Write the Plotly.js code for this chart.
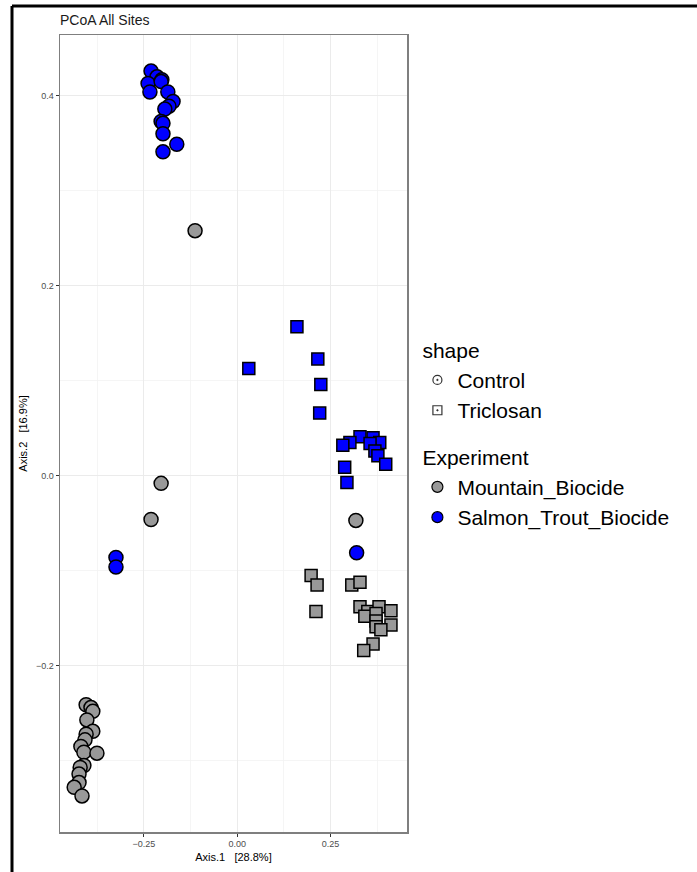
<!DOCTYPE html>
<html>
<head>
<meta charset="utf-8">
<script src="https://cdn.plot.ly/plotly-3.0.1.min.js"></script>
<style>
html,body{margin:0;padding:0;background:#fff;}
#chart{width:697px;height:872px;}
</style>
</head>
<body>
<div id="chart"></div>
<script>
// Mountain_Biocide, Control (grey circles)
var mountainControlX = [-0.405,-0.392,-0.387,-0.403,-0.387,-0.405,-0.408,-0.419,-0.411,-0.376,-0.411,-0.421,-0.424,-0.424,-0.437,-0.416,-0.113,-0.204,-0.231,0.318];
var mountainControlY = [-0.241,-0.244,-0.248,-0.257,-0.269,-0.272,-0.278,-0.285,-0.291,-0.292,-0.305,-0.307,-0.314,-0.323,-0.328,-0.337,0.258,-0.008,-0.046,-0.047];
// Mountain_Biocide, Triclosan (grey squares)
var mountainTriclosanX = [0.198,0.214,0.307,0.329,0.211,0.329,0.350,0.380,0.412,0.342,0.372,0.372,0.372,0.412,0.385,0.364,0.339];
var mountainTriclosanY = [-0.105,-0.115,-0.115,-0.112,-0.143,-0.138,-0.143,-0.138,-0.142,-0.148,-0.145,-0.153,-0.159,-0.157,-0.162,-0.177,-0.184];
// Salmon_Trout_Biocide, Control (blue circles)
var salmonControlX = [-0.231,-0.215,-0.202,-0.239,-0.234,-0.204,-0.186,-0.172,-0.183,-0.194,-0.204,-0.199,-0.199,-0.162,-0.199,-0.325,-0.325,0.320];
var salmonControlY = [0.426,0.420,0.417,0.413,0.404,0.415,0.404,0.394,0.389,0.386,0.373,0.371,0.360,0.349,0.341,-0.086,-0.096,-0.081];
// Salmon_Trout_Biocide, Triclosan (blue squares)
var salmonTriclosanX = [0.160,0.216,0.224,0.031,0.221,0.329,0.364,0.382,0.356,0.369,0.377,0.398,0.302,0.283,0.288,0.294];
var salmonTriclosanY = [0.157,0.123,0.096,0.113,0.066,0.041,0.040,0.035,0.034,0.026,0.021,0.012,0.035,0.032,0.009,-0.007];

var shapeLabels = ["Control","Triclosan"];
var experimentLabels = ["Mountain_Biocide","Salmon_Trout_Biocide"];
var experimentColors = ["#999999","#0000FF"];

var lineStyle = {color:"#000000", width:1.5};
function pts(x, y, color, symbol, size){
  return {type:"scatter", mode:"markers", x:x, y:y, showlegend:false, hoverinfo:"x+y",
    marker:{color:color, symbol:symbol, size:size, line:lineStyle}};
}
var traces = [
  pts(mountainControlX, mountainControlY, experimentColors[0], "circle", 14),
  pts(mountainTriclosanX, mountainTriclosanY, experimentColors[0], "square", 12),
  pts(salmonControlX, salmonControlY, experimentColors[1], "circle", 14),
  pts(salmonTriclosanX, salmonTriclosanY, experimentColors[1], "square", 12)
];
// legend entries
var shapeSymbols = ["circle-open-dot","square-open-dot"];
shapeLabels.forEach(function(lab, i){
  traces.push({type:"scatter", mode:"markers", x:[null], y:[null], name:lab,
    legendgroup:"shape", legendgrouptitle:{text:"shape"},
    marker:{symbol:shapeSymbols[i], color:"#333333", size:9, line:{width:1.2,color:"#333333"}}});
});
experimentLabels.forEach(function(lab, i){
  traces.push({type:"scatter", mode:"markers", x:[null], y:[null], name:lab,
    legendgroup:"experiment", legendgrouptitle:{text:"Experiment"},
    marker:{symbol:"circle", color:experimentColors[i], size:11, line:{width:1.2,color:"#000000"}}});
});

var gridColor = "#EBEBEB";
var layout = {
  width:697, height:872,
  margin:{l:60, r:290, t:35, b:40},
  paper_bgcolor:"#ffffff", plot_bgcolor:"#ffffff",
  font:{family:"Liberation Sans, Arial, sans-serif", color:"#000000"},
  title:{text:"PCoA All Sites", x:60/697, xref:"container", xanchor:"left", y:1-20/872, yref:"container", yanchor:"middle",
    font:{size:14, color:"#1a1a1a"}},
  xaxis:{range:[-0.475,0.455], dtick:0.25, tick0:0, tickformat:".2f", showgrid:true, gridcolor:gridColor, gridwidth:1,
    minor:{dtick:0.125, showgrid:true, gridcolor:"#F3F3F3", gridwidth:0.8},
    zeroline:false, showline:true, mirror:true, linecolor:"#7f7f7f", linewidth:1.5,
    ticks:"outside", ticklen:3, tickcolor:"#333333", tickfont:{size:9, color:"#4D4D4D"},
    title:{text:"Axis.1   [28.8%]", font:{size:11, color:"#000000"}, standoff:5}, automargin:false},
  yaxis:{range:[-0.375,0.464], dtick:0.2, tick0:0, tickformat:".1f", showgrid:true, gridcolor:gridColor, gridwidth:1,
    minor:{dtick:0.1, showgrid:true, gridcolor:"#F3F3F3", gridwidth:0.8},
    zeroline:false, showline:true, mirror:true, linecolor:"#7f7f7f", linewidth:1.5,
    ticks:"outside", ticklen:3, tickcolor:"#333333", tickfont:{size:9, color:"#4D4D4D"},
    title:{text:"Axis.2   [16.9%]", font:{size:11, color:"#000000"}, standoff:6}, automargin:false},
  legend:{x:1.03, xanchor:"left", y:0.5, yanchor:"middle", traceorder:"grouped", tracegroupgap:16,
    font:{size:21, color:"#000000"}, grouptitlefont:{size:21, color:"#000000"}, bgcolor:"rgba(0,0,0,0)", itemsizing:"trace", itemwidth:30},
  shapes:[
    {type:"line", xref:"paper", yref:"paper", x0:(12-60)/347, x1:(12-60)/347, y0:(832-6)/797, y1:(832-880)/797, line:{color:"#000000", width:3}},
    {type:"line", xref:"paper", yref:"paper", x0:(12-60)/347, x1:(700-60)/347, y0:(832-6)/797, y1:(832-6)/797, line:{color:"#000000", width:3}}
  ]
};
Plotly.newPlot("chart", traces, layout, {displayModeBar:false, staticPlot:true});
</script>
</body>
</html>
